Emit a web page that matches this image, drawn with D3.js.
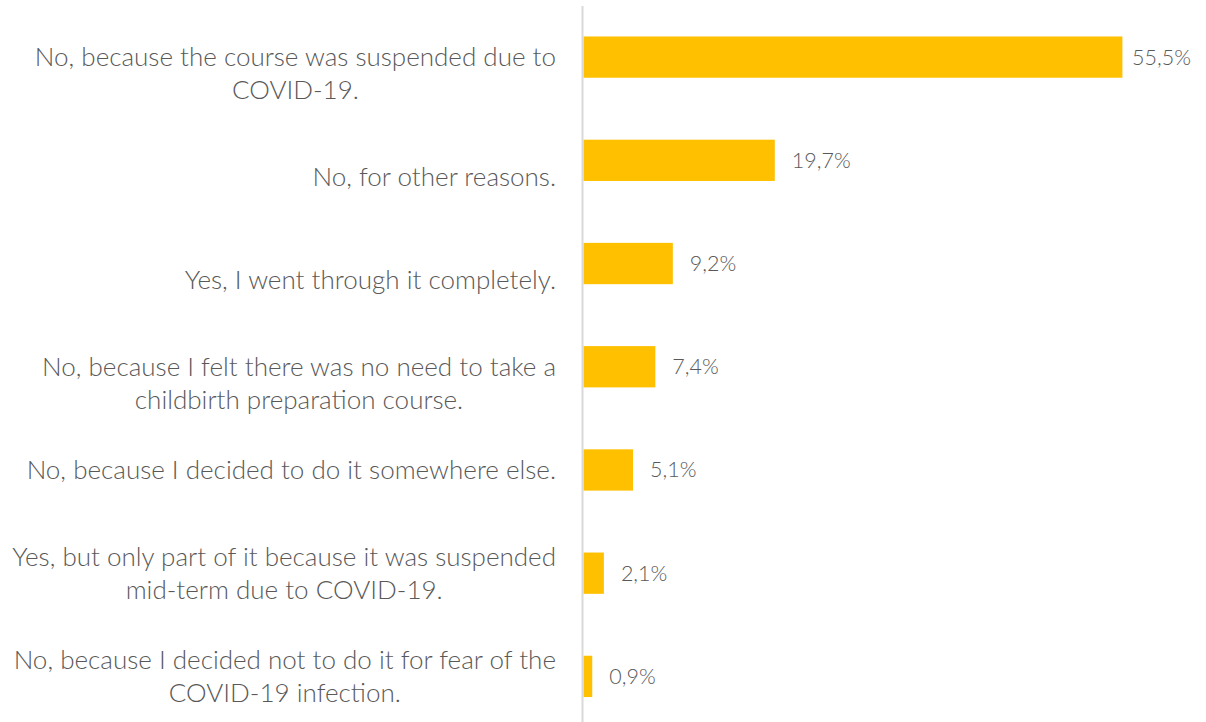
<!DOCTYPE html>
<html>
<head>
<meta charset="utf-8">
<script src="https://cdn.jsdelivr.net/npm/d3@7"></script>
<style>
  html, body { margin: 0; padding: 0; background: #ffffff; }
  svg { display: block; }
  text { font-family: Lato, "Open Sans", "DejaVu Sans", sans-serif; font-weight: 300; }
</style>
</head>
<body>
<svg id="chart" width="1206" height="722"></svg>
<script>
// Survey answers, top to bottom; each answer is split into its display lines
// (a leading empty line pushes the text down like a blank first line would).
const categoryLines = [
  ["", "No, because the course was suspended due to", "COVID-19."],
  ["", "No, for other reasons."],
  ["", "Yes, I went through it completely."],
  ["", "No, because I felt there was no need to take a", "childbirth preparation course."],
  ["No, because I decided to do it somewhere else."],
  ["Yes, but only part of it because it was suspended", "mid-term due to COVID-19."],
  ["No, because I decided not to do it for fear of the", "COVID-19 infection."]
];
const categories = categoryLines.map(l => l.filter(s => s).join(" "));
const shares = [55.5, 19.7, 9.2, 7.4, 5.1, 2.1, 0.9];
const valueLabels = ["55,5%", "19,7%", "9,2%", "7,4%", "5,1%", "2,1%", "0,9%"];

const W = 1206, H = 722;
const axisX = 582.5;          // vertical category axis line
const labelLeft = 12, labelRight = 556;   // horizontal extent of the category labels
const chartRight = 1191;      // value labels are kept inside this edge
const valueSize = 21.5, lineHeight = 33;
const barColor = "#FFC000", textColor = "#595959";

const svg = d3.select("#chart");

const x = d3.scaleLinear().domain([0, 60]).range([axisX + 1, axisX + 1 + 60 * 9.71]);
const y = d3.scaleBand().domain(categories).range([5.5, 728]).paddingInner(0.6).paddingOuter(0.3);

// bars
svg.append("g").selectAll("rect")
  .data(shares)
  .join("rect")
  .attr("x", x(0))
  .attr("y", (d, i) => y(categories[i]))
  .attr("width", d => x(d) - x(0))
  .attr("height", y.bandwidth())
  .attr("fill", barColor);

// value labels, just past the bar end
svg.append("g").selectAll("text")
  .data(shares)
  .join("text")
  .attr("y", (d, i) => y(categories[i]) + y.bandwidth() / 2)
  .attr("dy", "0.35em")
  .attr("font-size", valueSize)
  .attr("fill", textColor)
  .text((d, i) => valueLabels[i])
  .attr("x", function (d) {
    const w = this.getComputedTextLength();
    return Math.min(x(d) + 17, chartRight - w);
  });

// category labels: block right-aligned, lines centred within the block
const labels = svg.append("g");
const groups = categoryLines.map((lines, i) => {
  const cy = y(categories[i]) + y.bandwidth() / 2;
  return labels.append("g").selectAll("text")
    .data(lines)
    .join("text")
    .attr("font-size", 20)
    .attr("fill", textColor)
    .attr("text-anchor", "middle")
    .attr("y", (s, j) => cy + (j - (lines.length - 1) / 2) * lineHeight)
    .attr("dy", "0.35em")
    .text(s => s);
});
// size the text so the widest line spans the label column
const widest = d3.max(groups, t => d3.max(t.nodes(), n => n.getComputedTextLength()));
const labelSize = 20 * (labelRight - labelLeft) / widest;
groups.forEach(t => {
  t.attr("font-size", labelSize);
  const maxW = d3.max(t.nodes(), n => n.getComputedTextLength());
  t.attr("x", labelRight - maxW / 2);
});

// axis line
svg.append("line")
  .attr("x1", axisX).attr("x2", axisX)
  .attr("y1", 6).attr("y2", H)
  .attr("stroke", "#d9d9d9")
  .attr("stroke-width", 2);
</script>
</body>
</html>
